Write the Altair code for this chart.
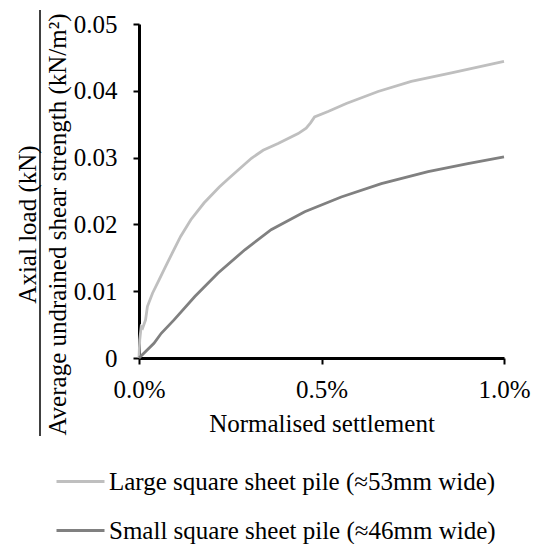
import altair as alt
import pandas as pd

FONT = "Liberation Serif"

series_names = ["Large square sheet pile (≈53mm wide)", "Small square sheet pile (≈46mm wide)"]
series_colors = ["#bfbfbf", "#808080"]

# Normalised settlement (%) and axial load / average undrained shear strength
large_settlement = [0, 0.002, 0.006, 0.010, 0.018, 0.023, 0.037, 0.055, 0.073, 0.091,
                    0.114, 0.142, 0.178, 0.220, 0.244, 0.271, 0.308, 0.340, 0.381,
                    0.436, 0.458, 0.470, 0.481, 0.518, 0.568, 0.655, 0.746, 0.856, 1.0]
large_load = [0, 0.0027, 0.0047, 0.0045, 0.0057, 0.0077, 0.0097, 0.0117, 0.0137, 0.0157,
              0.0182, 0.0207, 0.0232, 0.0256, 0.0268, 0.0281, 0.0299, 0.0311, 0.0321,
              0.0336, 0.0344, 0.0352, 0.0361, 0.0369, 0.0381, 0.0399, 0.0414, 0.0427, 0.0444]

small_settlement = [0, 0.041, 0.061, 0.096, 0.153, 0.216, 0.290, 0.362, 0.454,
                    0.554, 0.664, 0.792, 0.901, 1.0]
small_load = [0, 0.0022, 0.0037, 0.0057, 0.0092, 0.0127, 0.0162, 0.0192, 0.0219,
              0.0241, 0.0261, 0.0279, 0.0291, 0.0301]

x_ticks = [0, 0.5, 1.0]
y_ticks = [0, 0.01, 0.02, 0.03, 0.04, 0.05]

df = pd.concat([
    pd.DataFrame({"s": large_settlement, "v": large_load, "series": series_names[0]}),
    pd.DataFrame({"s": small_settlement, "v": small_load, "series": series_names[1]}),
])

lines = alt.Chart(df).mark_line(strokeWidth=2.8).encode(
    x=alt.X("s:Q", scale=alt.Scale(domain=[0, 1.0], nice=False),
            axis=alt.Axis(values=x_ticks, labelExpr="format(datum.value, '.1f') + '%'",
                          title="Normalised settlement", titlePadding=9, labelPadding=13,
                          labelFont=FONT, titleFont=FONT)),
    y=alt.Y("v:Q", scale=alt.Scale(domain=[0, 0.05], nice=False),
            axis=alt.Axis(values=y_ticks, format="~g",
                          title=["Axial load (kN)", "Average undrained shear strength (kN/m²)"],
                          titleX=-104, titleY=200, titleBaseline="alphabetic",
                          titleLineHeight=30, titleAlign="center", titleAngle=270,
                          labelPadding=16, labelFont=FONT, titleFont=FONT)),
    color=alt.Color("series:N",
                    scale=alt.Scale(domain=series_names, range=series_colors),
                    sort=series_names,
                    legend=alt.Legend(orient="none", legendX=-84, legendY=432, title=None,
                                      symbolType="stroke", symbolSize=2304,
                                      symbolStrokeWidth=3, labelFontSize=25,
                                      labelFont=FONT, labelColor="black", labelOffset=3,
                                      rowPadding=10, padding=0, labelLimit=0,
                                      direction="vertical")),
    order=alt.Order("s:Q"),
)

frac_bar = alt.Chart(alt.Data(values=[{}])).mark_rule(color="black", strokeWidth=1.5).encode(
    x=alt.value(-99), y=alt.value(-14), y2=alt.value(412)
)

chart = alt.layer(lines, frac_bar).properties(
    width=365, height=334,
    autosize=alt.AutoSizeParams(type="none"),
    padding={"left": 131, "top": 16, "right": 27, "bottom": 186},
).configure(font=FONT).configure_view(stroke=None).configure_axis(
    grid=False, domainColor="black", domainWidth=3, tickColor="black", tickWidth=2,
    tickSize=6, labelFont=FONT, labelFontSize=25, labelColor="black",
    titleFont=FONT, titleFontSize=25, titleColor="black", titleFontWeight="normal",
    labelFlush=False, labelOverlap=False,
)

chart.save("out.html", embed_options={"renderer": "svg", "actions": False})
